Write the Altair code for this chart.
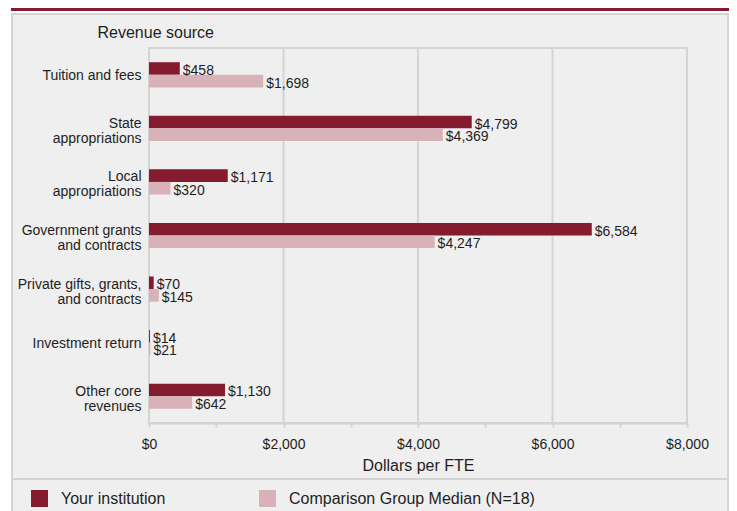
import altair as alt
import pandas as pd

# ---- data ----
categories = [
    "Tuition and fees",
    "State|appropriations",
    "Local|appropriations",
    "Government grants|and contracts",
    "Private gifts, grants,|and contracts",
    "Investment return",
    "Other core|revenues",
]
series_names = ["Your institution", "Comparison Group Median (N=18)"]
your_institution = [458, 4799, 1171, 6584, 70, 14, 1130]
comparison_median = [1698, 4369, 320, 4247, 145, 21, 642]
x_ticks = [0, 1000, 2000, 3000, 4000, 5000, 6000, 7000, 8000]
grid_values = [2000, 4000, 6000]
x_domain = [0, 8000]

DARK = "#851b2e"
LIGHT = "#d8b2b8"
PANEL = "#efefef"
LINE = "#d4d4d4"
TEXT = "#1e1e1e"
FONT = "Liberation Sans"

rows = []
for c, a, b in zip(categories, your_institution, comparison_median):
    rows.append({"category": c, "series": series_names[0], "value": a})
    rows.append({"category": c, "series": series_names[1], "value": b})
df = pd.DataFrame(rows)

x_scale = alt.Scale(domain=x_domain, nice=False, zero=True)
y_scale = alt.Scale(domain=categories, paddingInner=0.53, paddingOuter=0.265)
off_scale = alt.Scale(domain=series_names)

x_axis = alt.Axis(
    title="Dollars per FTE",
    values=x_ticks,
    format="$,.0f",
    labelExpr="datum.value % 2000 === 0 ? datum.label : ''",
    labelFlush=False,
    labelOverlap=False,
    grid=False,
    tickSize=4,
    tickWidth=2,
    tickColor=LINE,
    domainColor=LINE,
    domainWidth=2,
    labelFontSize=14,
    labelPadding=10,
    labelColor=TEXT,
    labelFont=FONT,
    titleFont=FONT,
    titleFontSize=16,
    titleFontWeight="normal",
    titleColor=TEXT,
    titlePadding=6,
    zindex=1,
)

one = pd.DataFrame({"k": [0]})

panel = alt.Chart(one).mark_rect(fill=PANEL, stroke=LINE, strokeWidth=2).encode(
    x=alt.value(-137), x2=alt.value(579), y=alt.value(-34), y2=alt.value(490)
)
band = alt.Chart(one).mark_rect(fill=DARK).encode(
    x=alt.value(-138), x2=alt.value(586), y=alt.value(-40), y2=alt.value(-37)
)
separator = alt.Chart(one).mark_rule(color=LINE, strokeWidth=2).encode(
    x=alt.value(-137), x2=alt.value(579), y=alt.value(431)
)
frame = alt.Chart(one).mark_rect(fillOpacity=0, stroke=LINE, strokeWidth=2).encode(
    x=alt.value(0), x2=alt.value(538), y=alt.value(0), y2=alt.value(375)
)

grid = alt.Chart(pd.DataFrame({"g": grid_values})).mark_rule(
    color=LINE, strokeWidth=2
).encode(x=alt.X("g:Q", scale=x_scale, axis=x_axis))

base = alt.Chart(df)

bars = base.mark_bar().encode(
    x=alt.X("value:Q", scale=x_scale, axis=x_axis),
    y=alt.Y(
        "category:N",
        scale=y_scale,
        sort=categories,
        axis=alt.Axis(
            title="Revenue source",
            titleAngle=0,
            titleAlign="left",
            titleBaseline="middle",
            titleX=-52,
            titleY=-16,
            titleFont=FONT,
            titleFontSize=16,
            titleFontWeight="normal",
            titleColor=TEXT,
            labelExpr="split(datum.label, '|')",
            labelOffset={
                "condition": {"test": "indexof(datum.label, '|') >= 0", "value": -4.5},
                "value": 1,
            },
            labelFont=FONT,
            labelFontSize=14,
            labelLineHeight=15,
            labelPadding=8,
            labelColor=TEXT,
            labelLimit=0,
            ticks=False,
            domain=False,
            zindex=1,
        ),
    ),
    yOffset=alt.YOffset("series:N", scale=off_scale, sort=series_names),
    color=alt.Color(
        "series:N",
        scale=alt.Scale(domain=series_names, range=[DARK, LIGHT]),
        legend=alt.Legend(
            title=None,
            orient="none",
            direction="horizontal",
            legendX=-118,
            legendY=442,
            symbolType="square",
            symbolSize=289,
            symbolStrokeWidth=0,
            symbolOpacity=1,
            labelFont=FONT,
            labelFontSize=16,
            labelColor=TEXT,
            labelOffset=13,
            columnPadding=93,
            labelLimit=0,
            padding=0,
            zindex=1,
        ),
    ),
)

labels = base.mark_text(
    align="left", baseline="middle", dx=3, dy=2.5, fontSize=14, font=FONT, color=TEXT
).encode(
    x=alt.X("value:Q", scale=x_scale, axis=x_axis),
    y=alt.Y("category:N", scale=y_scale, sort=categories),
    yOffset=alt.YOffset("series:N", scale=off_scale, sort=series_names),
    text=alt.Text("value:Q", format="$,.0f"),
)

chart = alt.layer(panel, band, separator, grid, frame, bars, labels).properties(
    width=538,
    height=375,
    padding={"left": 141, "top": 40, "right": 42, "bottom": 88},
    autosize=alt.AutoSizeParams(type="none"),
    background="white",
).configure_view(strokeOpacity=0)

chart.save("out.html", embed_options={"renderer": "svg", "actions": False})
